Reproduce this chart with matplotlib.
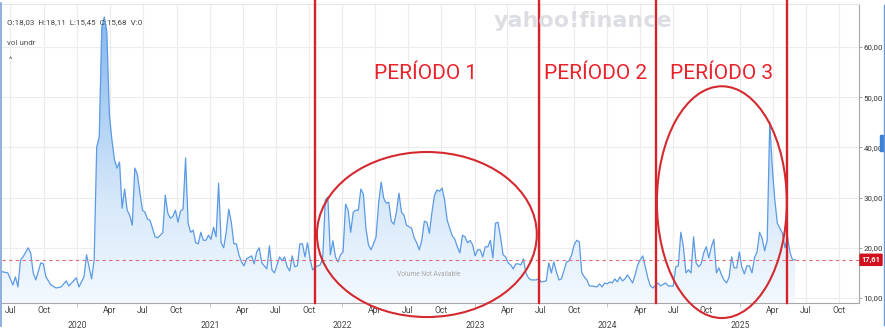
import numpy as np
import pandas as pd
import matplotlib
matplotlib.use("Agg")
import matplotlib.pyplot as plt
import matplotlib.dates as mdates
from matplotlib.patches import Ellipse, Rectangle
from matplotlib.lines import Line2D
from matplotlib.colors import LinearSegmentedColormap

plt.rcParams['font.family'] = ['Roboto', 'DejaVu Sans']

# weekly closes, week number counted from the first bar of the chart
first_week = "2019-06-03"
weeks = [0, 1, 3, 5, 6, 7, 8, 9, 11, 12, 13, 14, 16, 17, 18, 20, 22, 24, 26, 27,
         30, 31, 33, 34, 35, 36, 37, 38, 39, 40, 41, 42, 43, 44, 45, 46, 47, 48, 49, 50,
         51, 52, 53, 54, 56, 57, 58,
         59, 61, 62, 64, 65, 66, 67, 68, 69, 70, 71, 72, 73, 74, 75, 76, 77, 78, 79, 80,
         81, 82, 83, 84, 85, 86, 87, 88, 89, 90, 91, 92, 93, 94, 95, 96, 97, 99, 100, 101,
         102, 103, 104, 105, 106, 107, 108, 109, 110, 111, 112, 113, 114, 115, 116, 117,
         118, 119, 120, 121, 122, 123, 124,
         126, 127, 128, 129, 130, 131, 132, 133, 134, 135, 136, 137, 138, 139, 140, 141,
         142, 143, 144, 145, 146, 147, 148, 149, 150, 151, 152, 153, 154, 155, 156, 157,
         158, 159, 160, 162, 163, 164, 165, 166, 167, 168, 169, 170, 171, 172, 173, 174,
         175, 176, 177, 178, 179, 180, 181, 182, 183, 184, 185, 186, 187, 188, 189, 190,
         191, 192, 193, 194, 195, 196, 197, 198, 199, 200, 201, 202, 203, 204, 205, 206,
         207, 208, 209, 211,
         212, 213, 215, 216, 217, 218, 219, 220, 221, 223, 224, 225, 226, 227, 228, 229,
         230, 231, 232, 233, 235, 236, 237, 238, 239, 240, 241, 242, 243, 244, 245, 246,
         247, 248, 249, 250, 251, 252, 253, 254, 255, 256, 257,
         259, 260, 262, 263, 265, 266, 267, 268, 269, 270, 271, 272, 273, 274, 275, 276,
         277, 278, 279, 280, 281, 282, 283, 284, 285, 286, 287, 288, 289, 290, 291, 292,
         293, 294, 295, 296, 297, 298, 299, 300, 301, 302, 303, 304, 305, 306, 307, 308,
         309, 310, 311, 312, 313]
vix = [15.6, 15.2, 15.0, 12.6, 14.2, 12.2, 17.6, 18.2, 20.0, 19.0, 15.0, 13.6, 17.0, 16.8, 14.2, 12.6, 12.0, 12.2, 13.4, 12.4,
       14.0, 12.2, 14.2, 18.6, 16.2, 13.8, 17.6, 40.1, 42.1, 64.0, 66.0, 63.0, 46.5, 41.5, 37.5, 35.9, 37.1, 27.9, 31.7, 27.5,
       26.5, 24.5, 35.9, 34.7, 27.5, 27.1, 25.7,
       25.5, 22.2, 22.0, 23.0, 30.5, 26.9, 25.9, 26.3, 27.5, 25.1, 27.3, 27.7, 37.9, 24.9, 23.1, 23.5, 21.0, 20.8, 23.1, 21.5,
       21.5, 22.5, 21.7, 24.1, 22.2, 32.9, 21.0, 20.0, 23.1, 27.7, 25.1, 20.8, 20.8, 18.6, 17.2, 16.4, 17.8, 18.4, 16.8, 19.2,
       20.0, 17.0, 16.4, 15.8, 20.4, 15.6, 15.0, 16.6, 18.2, 17.4, 18.2, 16.2, 15.4, 18.4, 16.2, 16.4,
       20.8, 20.8, 18.2, 21.0, 17.8, 15.6, 16.2,
       16.6, 18.0, 29.5, 30.1, 18.6, 21.4, 18.2, 17.2, 18.6, 19.2, 28.7, 27.5, 23.1, 27.1, 27.5, 27.5,
       31.7, 30.7, 23.9, 20.6, 19.6, 20.8, 22.2, 28.9, 33.1, 29.9, 28.9, 29.1, 25.3, 24.7, 27.1, 30.9,
       27.1, 26.5, 24.5, 23.9, 22.0, 21.0, 19.6, 21.5, 25.3, 25.1, 22.9, 27.1, 30.5, 31.5, 31.3, 31.9,
       29.5, 25.5, 23.9, 22.4, 21.7, 20.2, 19.0, 22.5, 22.2, 21.0, 21.5, 20.6, 18.4, 19.6, 19.6, 18.2,
       20.2, 20.2, 21.5, 18.0, 24.9, 25.1, 22.2, 18.6, 18.2, 17.0, 16.6, 15.8, 16.8, 16.8, 16.6, 17.8,
       15.0, 14.0, 13.6, 13.6,
       13.8, 13.2, 13.4, 17.0, 15.0, 17.2, 15.2, 13.6, 13.8, 17.2, 17.4, 18.6, 20.6, 21.5, 21.2, 15.0,
       14.2, 13.6, 12.4, 12.4, 12.2, 12.8, 12.2, 13.0, 12.8, 13.2, 13.0, 13.8, 13.2, 14.2, 13.4, 13.8,
       14.6, 13.8, 13.0, 14.6, 16.6, 17.6, 18.4, 16.2, 14.0, 12.4, 12.0,
       13.0, 12.4, 13.0, 12.4, 12.4, 16.2, 16.4, 23.1, 20.2, 15.0, 15.6, 15.0, 22.2, 17.0, 16.2, 16.8,
       19.0, 20.2, 18.0, 20.2, 21.7, 15.0, 16.0, 14.6, 13.6, 13.0, 14.2, 18.2, 16.0, 16.0, 19.2, 16.2,
       14.8, 16.4, 16.4, 15.0, 18.0, 19.2, 23.1, 21.9, 19.4, 21.5, 45.1, 36.1, 29.5, 24.9, 23.9, 22.9,
       20.0, 22.2, 19.0, 17.6, 17.61]
last_close = 17.61

# period separators and the circled zones
period_lines = ["2021-10-18", "2023-06-26", "2024-05-14", "2025-05-11"]
period_names = ["PERÍODO 1", "PERÍODO 2", "PERÍODO 3"]
period_label_at = ["2022-08-19", "2023-12-01", "2024-11-12"]
circle_centers = [("2022-08-22", 22.65), ("2024-11-12", 29.1)]
circle_sizes = [(606, 32.9), (358, 46.2)]

yticks = [10, 20, 30, 40, 50, 60]

dates = pd.Timestamp(first_week) + pd.to_timedelta(np.array(weeks) * 7, unit="D")
x_lo, x_hi = pd.Timestamp("2019-06-08"), pd.Timestamp("2025-11-25")
y_lo, y_hi = 9.0, 68.6

fig = plt.figure(figsize=(8.85, 3.29), dpi=100)
ax = fig.add_axes([2 / 885, 26 / 329, 857 / 885, 299 / 329])
ax.set_axisbelow(True)

# area under the line with a vertical blue gradient
fill = ax.fill_between(dates, vix, y_lo, facecolor="none", edgecolor="none")
cmap = LinearSegmentedColormap.from_list("fade", ["#f3f9fe", "#d8e9fa", "#aacef4", "#80b4ee"])
grad = np.linspace(0, 1, 256).reshape(-1, 1)
im = ax.imshow(grad, extent=[mdates.date2num(x_lo), mdates.date2num(x_hi), y_lo, y_hi],
               origin="lower", aspect="auto", cmap=cmap, zorder=1)
im.set_clip_path(fill.get_paths()[0], transform=ax.transData)
ax.plot(dates, vix, color="#5b9ae4", lw=0.9, zorder=2)

ax.axhline(last_close, color="#e06a78", lw=0.8, ls=(0, (3, 3)), zorder=3)

for d in period_lines:
    ax.axvline(pd.Timestamp(d), ymin=0, ymax=1.014, color="#d6232b", lw=1.7, clip_on=False, zorder=4)

for (c, v), (w, h) in zip(circle_centers, circle_sizes):
    ax.add_patch(Ellipse((mdates.date2num(pd.Timestamp(c)), v), w, h, fill=False,
                         ec="#d42a2f", lw=1.5, clip_on=False, zorder=5))

for name, d in zip(period_names, period_label_at):
    ax.text(pd.Timestamp(d), 53.6, name, ha="center", va="baseline", fontsize=15,
            color="#e8232b", zorder=6)

ax.text(0.498, 0.094, "Volume Not Available", transform=ax.transAxes, ha="center", va="center",
        fontsize=4.8, color="#a8a8a8")

ax.set_xlim(x_lo, x_hi)
ax.set_ylim(y_lo, y_hi)

# x axis: years as major ticks, quarter months as minor ticks
ax.xaxis.set_major_locator(mdates.YearLocator())
ax.xaxis.set_major_formatter(mdates.DateFormatter("%Y"))
ax.xaxis.set_minor_locator(mdates.MonthLocator(bymonth=[4, 7, 10]))
ax.xaxis.set_minor_formatter(mdates.DateFormatter("%b"))
ax.tick_params(axis="x", which="major", pad=10, length=3, width=0.6, color="#bbbbbb",
               labelsize=6.2, labelcolor="#444444")
ax.tick_params(axis="x", which="minor", pad=2.5, length=0, labelsize=6.2, labelcolor="#444444")

ax.yaxis.tick_right()
ax.set_yticks(yticks)
ax.set_yticklabels([f"{v},00" for v in yticks])
ax.tick_params(axis="y", length=2, width=0.6, color="#999999", pad=1.2, labelsize=5.7,
               labelcolor="#333333")

ax.grid(True, which="both", axis="x", color="#ececec", lw=0.8)
ax.grid(True, which="major", axis="y", color="#ececec", lw=0.8)

ax.spines["left"].set_visible(False)
ax.spines["top"].set_color("#e6e6e6")
ax.spines["right"].set_color("#a8a8a8")
ax.spines["bottom"].set_color("#a8a8a8")
for s in ["top", "right", "bottom"]:
    ax.spines[s].set_linewidth(0.8)

# last price tag on the right axis
ax.text(1.003, last_close, f"{last_close:.2f}".replace(".", ","), transform=ax.get_yaxis_transform(),
        ha="left", va="center", fontsize=5.4, fontweight="bold", color="white", clip_on=False,
        bbox=dict(boxstyle="round,pad=0.3,rounding_size=0.15", fc="#d0101e", ec="none"))

# chart header text and watermark
fig.text(583 / 885, 1 - 21 / 329, "yahoo!finance", ha="center", va="center", fontsize=16,
         fontweight="bold", color="#dcdee3", family="DejaVu Sans", zorder=0)
fig.text(7 / 885, 1 - 22 / 329, "O:18,03  H:18,11  L:15,45  C:15,68  V:0", ha="left", va="center",
         fontsize=5.8, color="#444444")
fig.text(7 / 885, 1 - 43 / 329, "vol undr", ha="left", va="center", fontsize=5.8, color="#555555")
fig.text(9 / 885, 1 - 60 / 329, "^", ha="left", va="center", fontsize=5.8, color="#555555")

# side bars of the widget
fig.add_artist(Line2D([1 / 885, 1 / 885], [0.01, 0.99], color="#7ba3d8", lw=1.2))
fig.add_artist(Line2D([884 / 885, 884 / 885], [1 - 325 / 329, 1 - 5 / 329], color="#6a9ad8", lw=1.0))
fig.add_artist(Rectangle((880 / 885, 1 - 151 / 329), 5 / 885, 16 / 329, color="#3d7fd6",
                         transform=fig.transFigure))

fig.savefig("out.png", dpi=100)
